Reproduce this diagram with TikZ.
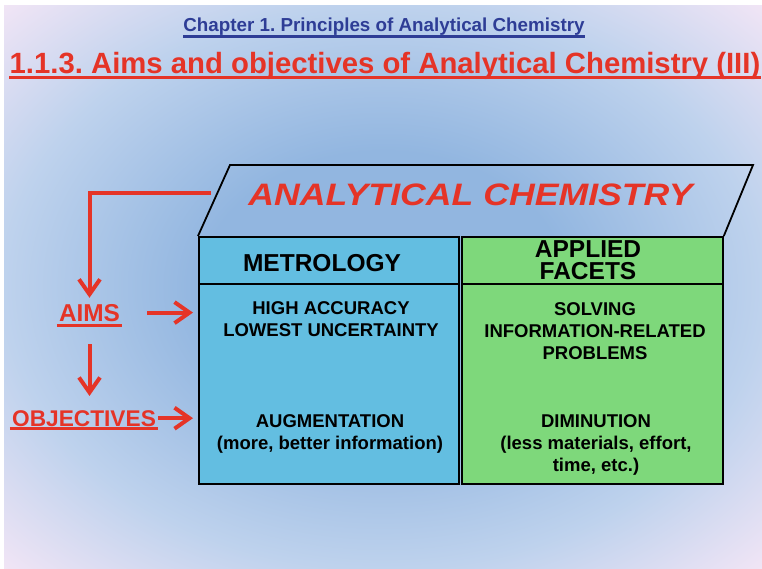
\documentclass[tikz,border=0pt]{standalone}
\usepackage{fontspec}
\setmainfont{Liberation Sans}
\usetikzlibrary{arrows.meta}
\frenchspacing
\definecolor{redc}{RGB}{229,52,39}
\definecolor{chapblue}{RGB}{46,61,150}
\definecolor{metroblue}{RGB}{99,190,225}
\definecolor{facetgreen}{RGB}{126,216,123}
\definecolor{bgin}{RGB}{146,182,224}
\definecolor{bgmid}{RGB}{190,210,237}
\definecolor{bgout}{RGB}{244,230,246}
\pgfdeclareradialshading{backdrop}{\pgfpoint{0bp}{0bp}}{color(0bp)=(bgin); color(12bp)=(bgin); color(25bp)=(bgmid); color(36bp)=(bgout); color(50bp)=(bgout)}
\begin{document}
\begin{tikzpicture}[x=1pt,y=-1pt,
  cell/.style={draw=black,line width=1.8pt,inner sep=0pt,anchor=north west},
  bodytext/.style={font=\fontsize{18.5}{22}\selectfont\bfseries,align=center,anchor=base,inner sep=0pt},
  headtext/.style={font=\fontsize{24.5}{22}\selectfont\bfseries,align=center,inner sep=0pt},
  sidetext/.style={text=redc,anchor=base,inner sep=2pt},
  redarrow/.style={draw=redc,line width=4pt,-{Straight Barb[length=15pt,width=21pt]}}]
\useasboundingbox (0,0) rectangle (762,568);
\fill[white] (0,0) rectangle (762,568);
\shade[shading=backdrop] (4,5) rectangle (762,568);
% titles
\node[text=chapblue,font=\fontsize{18.8}{20}\selectfont\bfseries,anchor=base,inner sep=0pt] (chapter) at (384,31) {Chapter 1. Principles of Analytical Chemistry};
\draw[chapblue,line width=2.5pt] ([yshift=-5.5pt]chapter.base west) -- ([yshift=-5.5pt]chapter.base east);
\node[text=redc,font=\fontsize{29.3}{30}\selectfont\bfseries,anchor=base,inner sep=0pt] (title) at (385,73.3) {1.1.3. Aims and objectives of Analytical Chemistry (III)};
\draw[redc,line width=3.3pt] ([yshift=-4.4pt]title.base west) -- ([yshift=-4.4pt]title.base east);
% table
\node[cell,fill=metroblue,minimum width=260pt,minimum height=47pt] (methead) at (198,236) {};
\node[cell,fill=metroblue,minimum width=260pt,minimum height=200pt] (metbody) at (198,283) {};
\node[cell,fill=facetgreen,minimum width=261pt,minimum height=47pt] (apphead) at (461,236) {};
\node[cell,fill=facetgreen,minimum width=261pt,minimum height=200pt] (appbody) at (461,283) {};
\coordinate (roofwest) at (230,165);
\coordinate (roofeast) at (753,165);
\draw[line width=1.8pt] (methead.north west) -- (roofwest) -- (roofeast) -- (apphead.north east);
\node[text=redc,font=\fontsize{31}{31}\selectfont\bfseries\itshape,anchor=base,inner sep=0pt] (roof) at (470.5,205) {\scalebox{1.15}[1]{ANALYTICAL CHEMISTRY}};
\node[headtext,anchor=base] (metlabel) at (322,271) {METROLOGY};
\node[headtext,anchor=base] (applabel) at (588,279) {APPLIED\\FACETS};
\node[bodytext] (accuracy) at (331,336) {HIGH ACCURACY\\LOWEST UNCERTAINTY};
\node[bodytext] (augment) at (330,449) {AUGMENTATION\\(more, better information)};
\node[bodytext] (solving) at (595,359) {SOLVING\\INFORMATION-RELATED\\PROBLEMS};
\node[bodytext] (diminish) at (596,471) {DIMINUTION\\(less materials, effort,\\time, etc.)};
% aims and objectives
\node[sidetext,font=\fontsize{24.4}{24}\selectfont\bfseries] (aims) at (89.5,321) {AIMS};
\draw[redc,line width=3pt] ([yshift=-4pt]aims.base west) -- ([yshift=-4pt]aims.base east);
\node[sidetext,font=\fontsize{22.7}{23}\selectfont\bfseries] (obj) at (84,426) {OBJECTIVES};
\draw[redc,line width=3pt] ([yshift=-2.5pt]obj.base west) -- ([yshift=-2.5pt]obj.base east);
\coordinate (tapstart) at (211,193);
\draw[redarrow] (tapstart) -| ([yshift=4pt]aims.north);
\draw[redarrow] ([yshift=-21pt]aims.south) -- ([yshift=12pt]aims.south |- obj.north);
\draw[redarrow] ([xshift=25pt]aims.east) -- ([xshift=-5pt]metbody.west |- aims.center);
\draw[redarrow] (obj.east) -- ([xshift=-5pt]metbody.west |- obj.center);
\end{tikzpicture}
\end{document}
